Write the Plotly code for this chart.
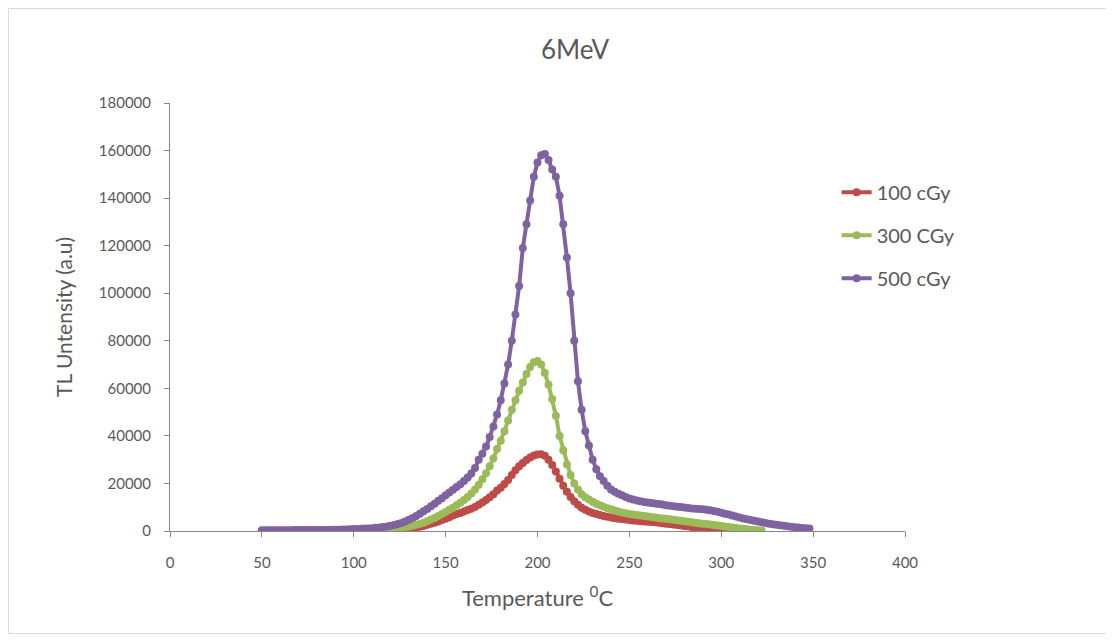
import plotly.graph_objects as go

# Temperatures (°C), step 2
temp_500 = list(range(50, 349, 2))
temp_300 = list(range(50, 323, 2))
temp_100 = list(range(50, 303, 2))

int_500 = [
    300, 300, 300, 300, 300, 300, 350, 350, 350, 400,
    400, 400, 400, 400, 400, 400, 450, 450, 450, 500,
    500, 550, 600, 650, 700, 800, 850, 900, 1000, 1100,
    1200, 1350, 1500, 1700, 1900, 2200, 2500, 2900, 3400, 4000,
    4700, 5500, 6300, 7300, 8300, 9300, 10400, 11500, 12700, 13800,
    15000, 16200, 17300, 18500, 19700, 21000, 22500, 24200, 26500, 30000,
    32500, 35500, 39500, 44000, 49000, 55000, 62000, 70000, 80000, 91000,
    103000, 119000, 129000, 139000, 149000, 155000, 158000, 158500, 156000, 152000,
    149000, 141000, 129000, 115000, 100000, 80000, 63000, 51000, 42000, 36000,
    30000, 26000, 23000, 21000, 19000, 17500, 16500, 15700, 15000, 14300,
    13700, 13200, 12800, 12500, 12200, 12000, 11800, 11600, 11400, 11100,
    10800, 10600, 10400, 10200, 10100, 9900, 9700, 9500, 9400, 9300,
    9100, 8900, 8700, 8400, 8100, 7700, 7300, 6900, 6500, 6100,
    5700, 5300, 4900, 4600, 4300, 4000, 3700, 3400, 3100, 2800,
    2600, 2400, 2200, 2000, 1800, 1600, 1500, 1300, 1200, 1100,
]

int_300 = [
    100, 100, 100, 100, 100, 120, 120, 130, 140, 150,
    150, 160, 170, 180, 190, 200, 200, 220, 240, 260,
    280, 300, 320, 350, 380, 400, 450, 500, 550, 600,
    650, 720, 800, 900, 1000, 1100, 1250, 1400, 1550, 1700,
    1900, 2200, 2600, 3000, 3500, 4100, 4800, 5500, 6300, 7100,
    8000, 8900, 9800, 10800, 11900, 13000, 14300, 15800, 17500, 19500,
    21800, 24300, 27200, 30500, 34500, 38000, 42000, 46500, 51000, 55000,
    59000, 62500, 66000, 69000, 71000, 71500, 70000, 66500, 61500, 55500,
    48500, 40000, 34000, 28000, 23500, 20000, 17500, 15500, 14200, 13200,
    12300, 11500, 10800, 10200, 9600, 9100, 8600, 8200, 7800, 7500,
    7200, 6900, 6700, 6500, 6300, 6100, 5900, 5700, 5500, 5300,
    5100, 4900, 4700, 4500, 4300, 4100, 3900, 3700, 3500, 3300,
    3100, 2900, 2700, 2500, 2300, 2100, 1900, 1700, 1500, 1300,
    1100, 900, 700, 500, 400, 300, 200,
]

int_100 = [
    80, 80, 80, 80, 80, 90, 90, 90, 100, 100,
    100, 110, 110, 120, 120, 130, 140, 150, 160, 170,
    180, 190, 200, 220, 240, 260, 280, 300, 330, 360,
    400, 450, 500, 560, 630, 700, 800, 900, 1000, 1100,
    1250, 1400, 1600, 1800, 2100, 2600, 3000, 3500, 4000, 4600,
    5100, 5800, 6500, 7100, 7600, 8200, 8800, 9400, 10100, 11000,
    12000, 13000, 14200, 15500, 17000, 18200, 19800, 21500, 23500, 25500,
    27200, 28600, 29900, 30900, 31700, 32200, 32300, 31600, 30000, 27800,
    25000, 22000, 19000, 16500, 14300, 12500, 11000, 9800, 8900, 8200,
    7600, 7100, 6700, 6300, 6000, 5700, 5400, 5200, 5000, 4800,
    4600, 4400, 4300, 4100, 4000, 3900, 3800, 3700, 3500, 3300,
    3100, 2900, 2700, 2500, 2300, 2100, 1900, 1700, 1500, 1300,
    1100, 900, 700, 550, 400, 300, 200,
]

series = [
    ("100 cGy", temp_100, int_100, "#BE4B48", "g1"),
    ("300 CGy", temp_300, int_300, "#9BBB59", "g2"),
    ("500 cGy", temp_500, int_500, "#7F63A1", "g3"),
]

x_ticks = list(range(0, 401, 50))
y_ticks = list(range(0, 180001, 20000))

FONT = "Lato, 'Open Sans', sans-serif"
GRAY = "#595959"

fig = go.Figure()
for name, xs, ys, col, grp in series:
    fig.add_trace(go.Scatter(
        x=xs, y=ys, name=name, mode="lines+markers",
        legendgroup=grp,
        line=dict(color=col, width=4),
        marker=dict(color=col, size=8, symbol="circle"),
    ))

fig.update_layout(
    width=1114, height=642,
    margin=dict(l=162, r=217, t=95, b=119),
    paper_bgcolor="white", plot_bgcolor="white",
    font=dict(family=FONT, color=GRAY, size=15),
    title=dict(text="6MeV", x=567 / 1114, xanchor="center", y=1 - 42 / 642, yanchor="middle",
               font=dict(size=26, color=GRAY, family=FONT)),
    showlegend=True,
    legend=dict(x=0.907, y=0.837, xanchor="left", yanchor="top",
                traceorder="grouped", tracegroupgap=14,
                font=dict(size=20, color=GRAY, family=FONT),
                bgcolor="rgba(0,0,0,0)"),
    xaxis=dict(range=[0, 400], tickvals=x_ticks, ticktext=[str(v) for v in x_ticks],
               showgrid=False, zeroline=False, showline=True, linecolor="#868686", linewidth=1,
               ticks="outside", ticklen=5, tickcolor="#868686", ticklabelstandoff=13,
               tickfont=dict(size=15, color=GRAY, family=FONT),
               title=dict(text="Temperature <sup>0</sup>C", font=dict(size=22, color=GRAY, family=FONT), standoff=20)),
    yaxis=dict(range=[0, 180000], tickvals=y_ticks, ticktext=[str(v) for v in y_ticks],
               showgrid=False, zeroline=False, showline=True, linecolor="#868686", linewidth=1,
               ticks="outside", ticklen=5, tickcolor="#868686", ticklabelstandoff=10,
               tickfont=dict(size=15, color=GRAY, family=FONT),
               title=dict(text="TL Untensity (a.u)", font=dict(size=21, color=GRAY, family=FONT), standoff=20)),
    shapes=[dict(type="rect", xref="paper", yref="paper",
                 x0=-0.2197, x1=1.2755, y0=-0.2395, y1=1.2208,
                 line=dict(color="#D9D9D9", width=1), fillcolor="rgba(0,0,0,0)", layer="below")],
)

fig.write_html("out.html")
